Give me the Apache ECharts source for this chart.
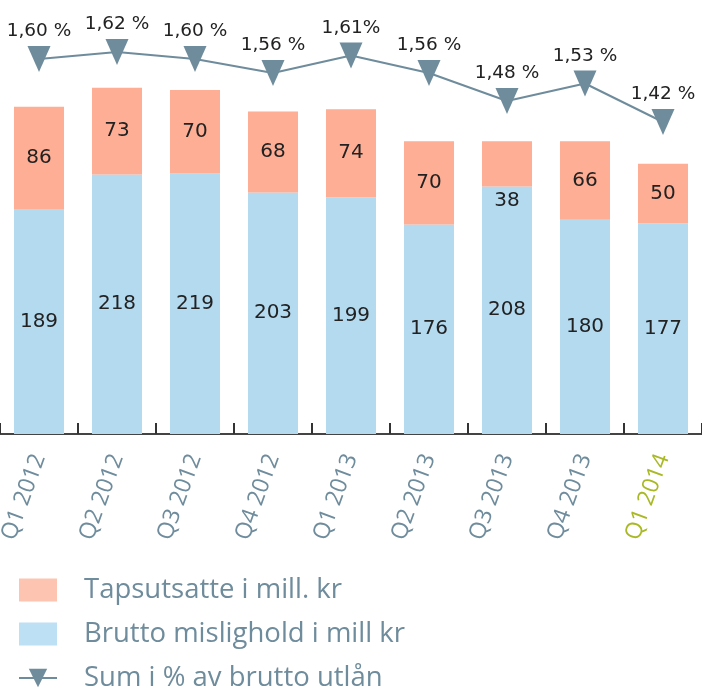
<!DOCTYPE html>
<html>
<head>
<meta charset="utf-8">
<script src="https://cdn.jsdelivr.net/npm/echarts@6/dist/echarts.min.js"></script>
<style>
  html, body { margin: 0; padding: 0; background: #fff; }
  #chart { width: 702px; height: 688px; }
</style>
</head>
<body>
<div id="chart"></div>
<script>
// Stablede søyler (mislighold + tapsutsatte) med linje for sum i % over.
const quarters = ['Q1 2012', 'Q2 2012', 'Q3 2012', 'Q4 2012', 'Q1 2013', 'Q2 2013', 'Q3 2013', 'Q4 2013', 'Q1 2014']
const brutto = [189, 218, 219, 203, 199, 176, 208, 180, 177]
const tapsutsatte = [86, 73, 70, 68, 74, 70, 38, 66, 50]
const sumPct = [1.60, 1.62, 1.60, 1.56, 1.61, 1.56, 1.48, 1.53, 1.42]
const sumPctLabels = ['1,60 %', '1,62 %', '1,60 %', '1,56 %', '1,61%', '1,56 %', '1,48 %', '1,53 %', '1,42 %']

const ORANGE = '#fdae94'
const BLUE = '#b4daf0'
const STEEL = '#6f8c9c'
const GREEN = '#a9b925'

const chart = echarts.init(document.getElementById('chart'), null, { renderer: 'canvas' })

// siste kvartal fremheves i grønt
const xData = quarters.map((q, i) =>
  i === quarters.length - 1 ? { value: q, textStyle: { color: GREEN } } : q
)

// i originalen står "38" litt under det oransje feltet
const tapsData = tapsutsatte.map((v, i) =>
  i === 6 ? { value: v, label: { offset: [0, 37] } } : v
)

const barLabel = {
  show: true,
  position: 'inside',
  fontFamily: 'DejaVu Sans',
  fontSize: 20,
  color: '#222',
}

chart.setOption({
  animation: false,
  grid: [
    { left: 0, right: 0, top: 17.5, bottom: 254, outerBoundsMode: 'none', containLabel: false },
    // egen grid for prosentlinjen
    { left: 0, right: 0, top: 52, height: 70, outerBoundsMode: 'none', containLabel: false },
  ],
  legend: {
    orient: 'vertical',
    left: 18,
    top: 576,
    height: 140, // ellers brytes legenden i to kolonner
    padding: 0,
    itemWidth: 38,
    itemHeight: 23,
    itemGap: 16,
    textStyle: {
      fontFamily: 'Open Sans',
      fontSize: 27.5,
      lineHeight: 24,
      color: STEEL,
      padding: [0, 0, 0, 22],
    },
    data: [
      { name: 'Tapsutsatte i mill. kr', icon: 'rect', itemStyle: { color: '#fdc5b1' } },
      { name: 'Brutto mislighold i mill kr', icon: 'rect', itemStyle: { color: '#bde0f4' } },
      { name: 'Sum i % av brutto utlån' },
    ],
  },
  xAxis: [
    {
      type: 'category',
      data: xData,
      gridIndex: 0,
      axisLine: { lineStyle: { color: '#444', width: 2 } },
      axisTick: { show: true, inside: true, length: 11, lineStyle: { color: '#333', width: 2 } },
      axisLabel: {
        rotate: 70,
        margin: 21,
        fontFamily: 'Open Sans',
        fontSize: 23,
        color: STEEL,
      },
    },
    {
      type: 'category',
      data: quarters,
      gridIndex: 1,
      show: false,
    },
  ],
  yAxis: [
    { type: 'value', gridIndex: 0, min: 0, max: 350, show: false },
    { type: 'value', gridIndex: 1, min: 1.42, max: 1.62, show: false },
  ],
  series: [
    {
      name: 'Brutto mislighold i mill kr',
      type: 'bar',
      stack: 'total',
      barWidth: 50,
      data: brutto,
      itemStyle: { color: BLUE },
      label: barLabel,
    },
    {
      name: 'Tapsutsatte i mill. kr',
      type: 'bar',
      stack: 'total',
      barWidth: 50,
      data: tapsData,
      itemStyle: { color: ORANGE },
      label: barLabel,
    },
    {
      name: 'Sum i % av brutto utlån',
      type: 'line',
      xAxisIndex: 1,
      yAxisIndex: 1,
      data: sumPct,
      symbol: 'triangle',
      symbolRotate: 180,
      symbolSize: [23, 26],
      lineStyle: { color: STEEL, width: 2 },
      itemStyle: { color: STEEL },
      label: {
        show: true,
        position: 'top',
        distance: 5,
        fontFamily: 'DejaVu Sans',
        fontSize: 18.5,
        color: '#222',
        formatter: (p) => sumPctLabels[p.dataIndex],
      },
      z: 5,
    },
  ],
})
</script>
</body>
</html>
